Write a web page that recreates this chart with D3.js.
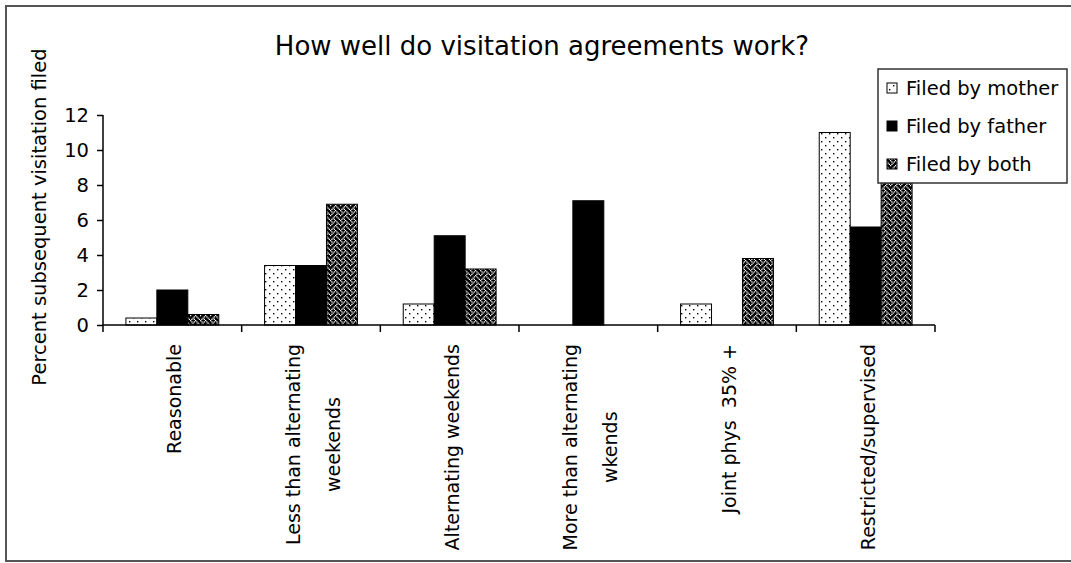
<!DOCTYPE html>
<html>
<head>
<meta charset="utf-8">
<script src="https://cdn.jsdelivr.net/npm/d3@7"></script>
<style>
  html, body { margin: 0; padding: 0; background: #fff; }
  svg { display: block; }
  text { font-family: "DejaVu Sans", sans-serif; fill: #000; white-space: pre; }
</style>
</head>
<body>
<svg id="chart" width="1071" height="563"></svg>
<script>
// ---- data ----
const categories = [
  "Reasonable",
  "Less than alternating\nweekends",
  "Alternating weekends",
  "More than alternating\nwkends",
  "Joint phys  35% +",
  "Restricted/supervised"
];
const seriesNames = ["Filed by mother", "Filed by father", "Filed by both"];
const motherValues = [0.4, 3.4, 1.2, 0, 1.2, 11.0];
const fatherValues = [2.0, 3.4, 5.1, 7.1, 0, 5.6];
const bothValues   = [0.6, 6.9, 3.2, 0, 3.8, 8.8];
const yTicks = [0, 2, 4, 6, 8, 10, 12];
const titleText = "How well do visitation agreements work?";
const yLabelText = "Percent subsequent visitation filed";

const seriesValues = [motherValues, fatherValues, bothValues];
const seriesFill = ["url(#pMother)", "#000", "url(#pBoth)"];

const svg = d3.select("#chart");
const defs = svg.append("defs");

// dotted pattern (mother)
const pm = defs.append("pattern").attr("id", "pMother")
  .attr("patternUnits", "userSpaceOnUse").attr("width", 8).attr("height", 8);
pm.append("rect").attr("width", 8).attr("height", 8).attr("fill", "#fff");
pm.append("rect").attr("x", 1).attr("y", 1).attr("width", 1.4).attr("height", 1.4).attr("fill", "#000");
pm.append("rect").attr("x", 5).attr("y", 5).attr("width", 1.4).attr("height", 1.4).attr("fill", "#000");

// weave pattern (both) — 8x8 bitmap, white bits on black
const weaveRows = [0x88, 0x54, 0x22, 0x45, 0x88, 0x14, 0x22, 0x51];
const ps = 1.25;
const pb = defs.append("pattern").attr("id", "pBoth")
  .attr("patternUnits", "userSpaceOnUse").attr("width", 8 * ps).attr("height", 8 * ps);
pb.append("rect").attr("width", 8 * ps).attr("height", 8 * ps).attr("fill", "#000");
const bits = [];
weaveRows.forEach((row, r) => {
  for (let b = 0; b < 8; b++) if (row & (0x80 >> b)) bits.push([b, r]);
});
pb.selectAll("rect.bit").data(bits).join("rect").attr("class", "bit")
  .attr("x", d => d[0] * ps).attr("y", d => d[1] * ps)
  .attr("width", ps).attr("height", ps).attr("fill", "#fff");

// frame
svg.append("rect").attr("x", 6).attr("y", 6).attr("width", 1075).attr("height", 555)
  .attr("fill", "none").attr("stroke", "#555").attr("stroke-width", 2);

// scales
const x = d3.scaleBand().domain(categories).range([103, 935]).padding(0);
const xs = d3.scaleBand().domain(seriesNames).range([0, x.bandwidth()])
  .paddingInner(0).paddingOuter(0.74);
const y = d3.scaleLinear().domain([0, 12]).range([325, 115]);

// bars
seriesNames.forEach((s, si) => {
  svg.append("g").selectAll("rect")
    .data(categories.map((c, i) => ({ c, v: seriesValues[si][i] })).filter(d => d.v > 0))
    .join("rect")
    .attr("x", d => x(d.c) + xs(s))
    .attr("y", d => y(d.v))
    .attr("width", xs.bandwidth())
    .attr("height", d => y(0) - y(d.v))
    .attr("fill", seriesFill[si])
    .attr("stroke", "#000").attr("stroke-width", 1);
});

// y axis
const yAxis = svg.append("g").attr("transform", "translate(103,0)")
  .call(d3.axisLeft(y).tickValues(yTicks).tickSize(6).tickPadding(8).tickFormat(d3.format("d")));
yAxis.select(".domain").attr("stroke", "#000").attr("stroke-width", 1.5).attr("d", "M0," + y(12) + "V" + y(0));
yAxis.selectAll(".tick line").attr("stroke", "#000").attr("stroke-width", 1.5);
yAxis.selectAll(".tick text").style("font-family", "DejaVu Sans").style("font-size", "19.5px");

// x axis (ticks at category boundaries)
const xr = x.range();
svg.append("line").attr("x1", xr[0]).attr("x2", xr[1]).attr("y1", y(0)).attr("y2", y(0))
  .attr("stroke", "#000").attr("stroke-width", 1.5);
const boundaries = categories.map(c => x(c)).concat([xr[1]]);
svg.append("g").selectAll("line").data(boundaries).join("line")
  .attr("x1", d => d).attr("x2", d => d).attr("y1", y(0)).attr("y2", y(0) + 7)
  .attr("stroke", "#000").attr("stroke-width", 1.5);

// x labels (rotated, top-anchored, lines centered)
const labelTop = 344;
const lineGap = 40;
categories.forEach(c => {
  const lines = c.split("\n");
  const cx = x(c) + x.bandwidth() / 2 + 2;
  const g = svg.append("g");
  const texts = lines.map((ln, li) => {
    const lx = cx + (li - (lines.length - 1) / 2) * lineGap;
    return g.append("text").text(ln)
      .style("font-size", "19px")
      .attr("text-anchor", "middle")
      .attr("dominant-baseline", "central")
      .attr("data-x", lx);
  });
  const maxLen = d3.max(texts, t => t.node().getComputedTextLength());
  texts.forEach(t => {
    const lx = +t.attr("data-x");
    const ly = labelTop + maxLen / 2;
    t.attr("transform", "translate(" + lx + "," + ly + ") rotate(-90)");
  });
});

// y label
svg.append("text").text(yLabelText)
  .style("font-size", "19.5px")
  .attr("text-anchor", "middle").attr("dominant-baseline", "central")
  .attr("transform", "translate(39,217) rotate(-90)");

// title
svg.append("text").text(titleText)
  .style("font-size", "26px")
  .attr("text-anchor", "middle")
  .attr("x", 542).attr("y", 55);

// legend
const lg = svg.append("g");
lg.append("rect").attr("x", 878).attr("y", 69).attr("width", 189).attr("height", 114)
  .attr("fill", "#fff").attr("stroke", "#333").attr("stroke-width", 1.5);
seriesNames.forEach((s, i) => {
  const cy = 88 + i * 38;
  lg.append("rect").attr("x", 887).attr("y", cy - 5).attr("width", 10).attr("height", 10)
    .attr("fill", seriesFill[i]).attr("stroke", "#000").attr("stroke-width", 1);
  lg.append("text").text(s).style("font-size", "19.5px")
    .attr("x", 906).attr("y", cy).attr("dominant-baseline", "central");
});
</script>
</body>
</html>
